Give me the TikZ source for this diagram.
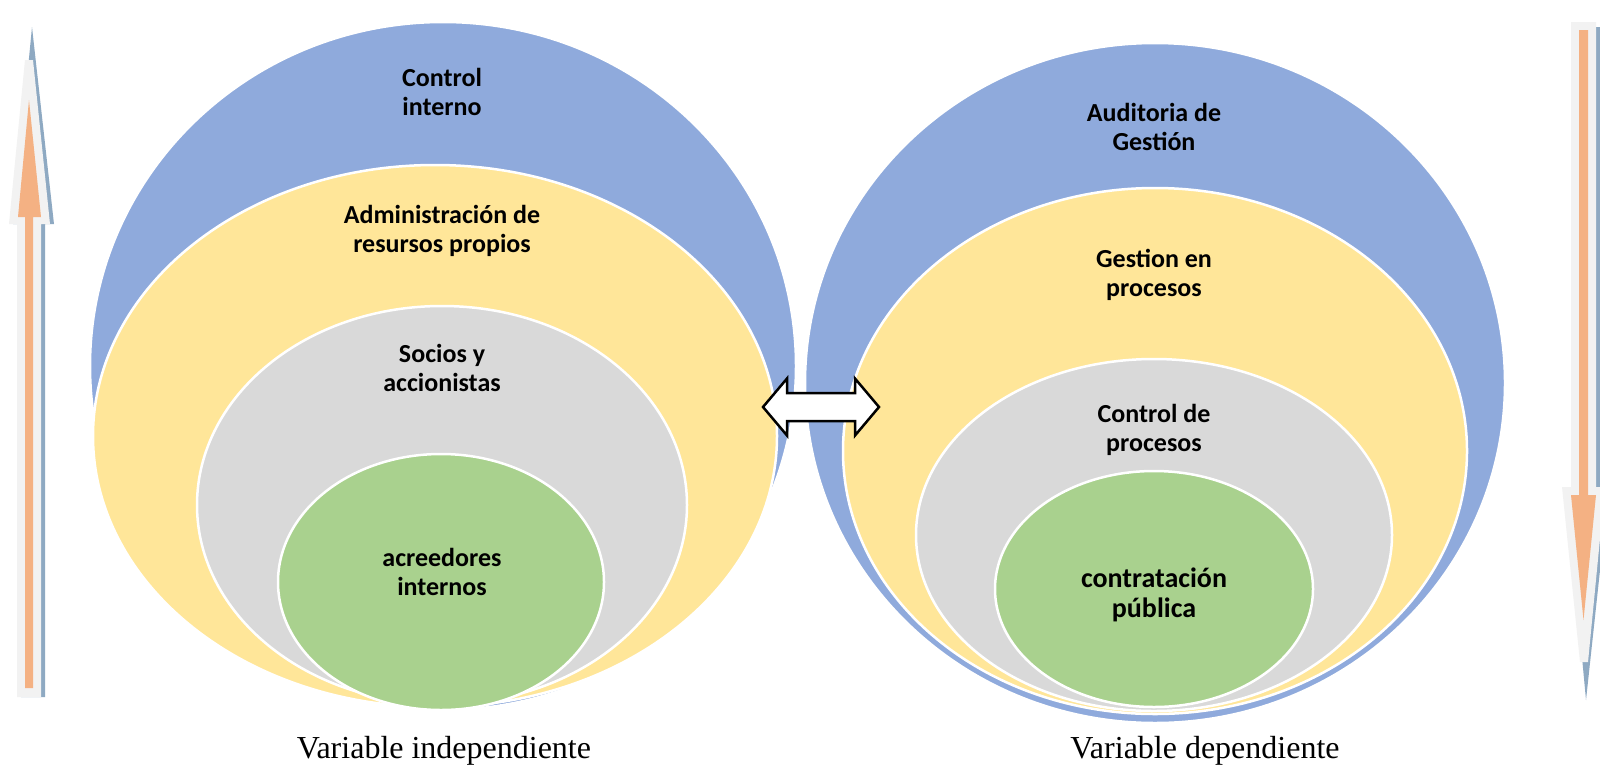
\documentclass[tikz,border=0pt]{standalone}
\usepackage{fontspec}
\setmainfont{Liberation Serif}
\newfontfamily\carlito{Carlito}
\definecolor{cblue}{HTML}{8FAADC}
\definecolor{cyellow}{HTML}{FFE699}
\definecolor{cgray}{HTML}{D9D9D9}
\definecolor{cgreen}{HTML}{A9D18E}
\definecolor{cshadow}{HTML}{8EA9C2}
\definecolor{clight}{HTML}{F2F2F2}
\definecolor{corange}{HTML}{F4B183}
\begin{document}
\begin{tikzpicture}[x=1pt,y=-1pt,
  ring/.style={draw=white,line width=2.5pt},
  lbl/.style={font=\carlito\bfseries\fontsize{26}{29}\selectfont,align=center,text=black},
  lblbig/.style={font=\carlito\bfseries\fontsize{28}{30}\selectfont,align=center,text=black},
  captxt/.style={font=\fontsize{32}{36}\selectfont,anchor=base,text=black}]
\useasboundingbox (0,0) rectangle (1600,769);
\fill[white] (0,0) rectangle (1600,769);

% left set
\filldraw[ring,fill=cblue]   (443,366) ellipse [x radius=353pt, y radius=344pt];
\filldraw[ring,fill=cyellow] (435,436) ellipse [x radius=342pt, y radius=271pt];
\filldraw[ring,fill=cgray]   (442,505) ellipse [x radius=245pt, y radius=199pt];
\filldraw[ring,fill=cgreen]  (441,582) ellipse [x radius=163pt, y radius=128pt];

% right set
\filldraw[ring,fill=cblue]   (1155,383) ellipse [x radius=350pt, y radius=340pt];
\filldraw[ring,fill=cyellow] (1155,451) ellipse [x radius=312pt, y radius=263pt];
\filldraw[ring,fill=cgray]   (1154,535) ellipse [x radius=238pt, y radius=176pt];
\filldraw[ring,fill=cgreen]  (1154,589) ellipse [x radius=159pt, y radius=118pt];

% labels left
\node[lbl] (l1) at (442,92)  {Control\\interno};
\node[lbl] (l2) at (442,231) {Administración de\\resursos propios};
\node[lbl] (l3) at (442,368) {Socios y\\accionistas};
\node[lbl] (l4) at (442,572) {acreedores\\internos};

% labels right
\node[lbl] (r1) at (1154,127) {Auditoria de\\Gestión};
\node[lbl] (r2) at (1154,275) {Gestion en\\procesos};
\node[lbl] (r3) at (1154,430) {Control de\\procesos};
\node[lblbig] (r4) at (1154,595) {contratación\\pública};

% double arrow
\filldraw[fill=white,draw=black,line width=2.5pt,line join=miter]
  (763,407) -- (787,378.5) -- (787,393) -- (855,393) -- (855,378.5) -- (879,407)
  -- (855,435.5) -- (855,421) -- (787,421) -- (787,435.5) -- cycle;

% left up arrow
\fill[cshadow] (32,27) -- (54,224) -- (45,224) -- (45,697) -- (21,697) -- (21,224) -- (13,224) -- cycle;
\fill[clight] (25,60) -- (33,60) -- (50,224) -- (41,224) -- (41,697) -- (17,697) -- (17,224) -- (9,224) -- cycle;
\fill[corange] (29,100) -- (41,217) -- (33,217) -- (33,688) -- (25,688) -- (25,217) -- (18,217) -- cycle;

% right down arrow
\fill[cshadow] (1575,27) -- (1600,27) -- (1600,487) -- (1609,487) -- (1586,700) -- (1566,487) -- (1575,487) -- cycle;
\fill[clight] (1571,22) -- (1596,22) -- (1596,487) -- (1605,487) -- (1588,662) -- (1580,662) -- (1562,487) -- (1571,487) -- cycle;
\fill[corange] (1579,30) -- (1588,30) -- (1588,495) -- (1596,495) -- (1583.5,620) -- (1571,495) -- (1579,495) -- cycle;

% captions
\node[captxt] (c1) at (444,758) {Variable independiente};
\node[captxt] (c2) at (1205,758) {Variable dependiente};
\end{tikzpicture}
\end{document}
